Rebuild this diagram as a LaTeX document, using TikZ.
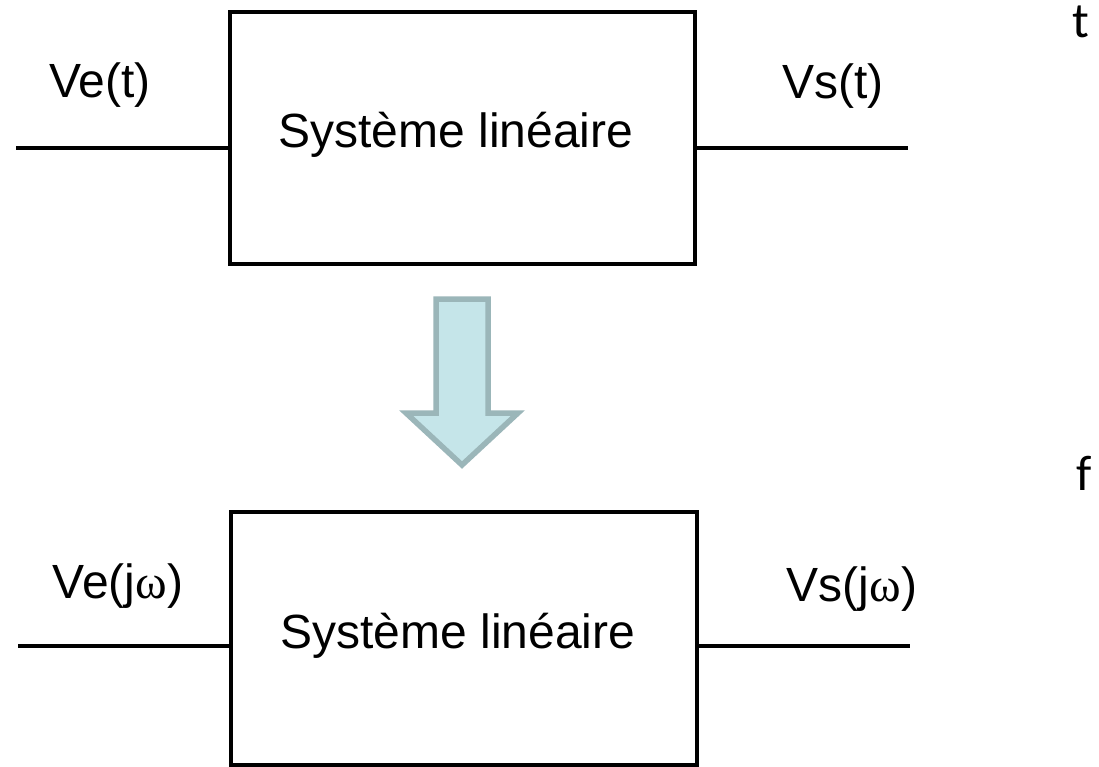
\documentclass[tikz,border=0pt]{standalone}
\usepackage{fontspec}
\setmainfont{Liberation Sans}
\newfontfamily\omegafont{Liberation Serif}
\newfontfamily\carlfont{Carlito}
\begin{document}
\begin{tikzpicture}[x=1pt,y=-1pt,
  sysbox/.style={draw=black,line width=4.5pt,outer sep=0pt,inner sep=0pt,fill=white},
  wire/.style={line width=4.5pt},
  lbl/.style={anchor=base,inner sep=0pt,font=\fontsize{48}{52}\selectfont},
  dom/.style={anchor=base,inner sep=0pt,font=\carlfont\fontsize{50}{54}\selectfont},
  bigarrow/.style={draw={rgb,255:red,155;green,182;blue,185},fill={rgb,255:red,197;green,229;blue,233},line width=5.5pt,miter limit=10}]
\useasboundingbox (0,0) rectangle (1099,767);
% top system
\node[sysbox,minimum width=465pt,minimum height=252pt] (sys1) at (462.5,138) {};
\node[lbl] (txt1) at (456,148) {Système linéaire};
\coordinate (in1) at (16,148);
\coordinate (out1) at (908,148);
\draw[wire] (in1) -- (in1 -| sys1.west);
\draw[wire] (out1 -| sys1.east) -- (out1);
\node[lbl] (ve1) at (100,98) {Ve(t)};
\node[lbl] (vs1) at (833,99) {Vs(t)};
\node[dom] (tdom) at (1081,38) {t};
% transformation arrow
\draw[bigarrow] (436,299) -- (488,299) -- (488,413) -- (518,413) -- (462,465) -- (406,413) -- (436,413) -- cycle;
% bottom system
\node[sysbox,minimum width=466pt,minimum height=253pt] (sys2) at (464,638.5) {};
\node[lbl] (txt2) at (458,648) {Système linéaire};
\coordinate (in2) at (18,646);
\coordinate (out2) at (910,646);
\draw[wire] (in2) -- (in2 -| sys2.west);
\draw[wire] (out2 -| sys2.east) -- (out2);
\node[lbl] (ve2) at (118,598) {Ve(j{\omegafont ω})};
\node[lbl] (vs2) at (852,601) {Vs(j{\omegafont ω})};
\node[dom] (fdom) at (1084,490) {f};
\end{tikzpicture}
\end{document}
